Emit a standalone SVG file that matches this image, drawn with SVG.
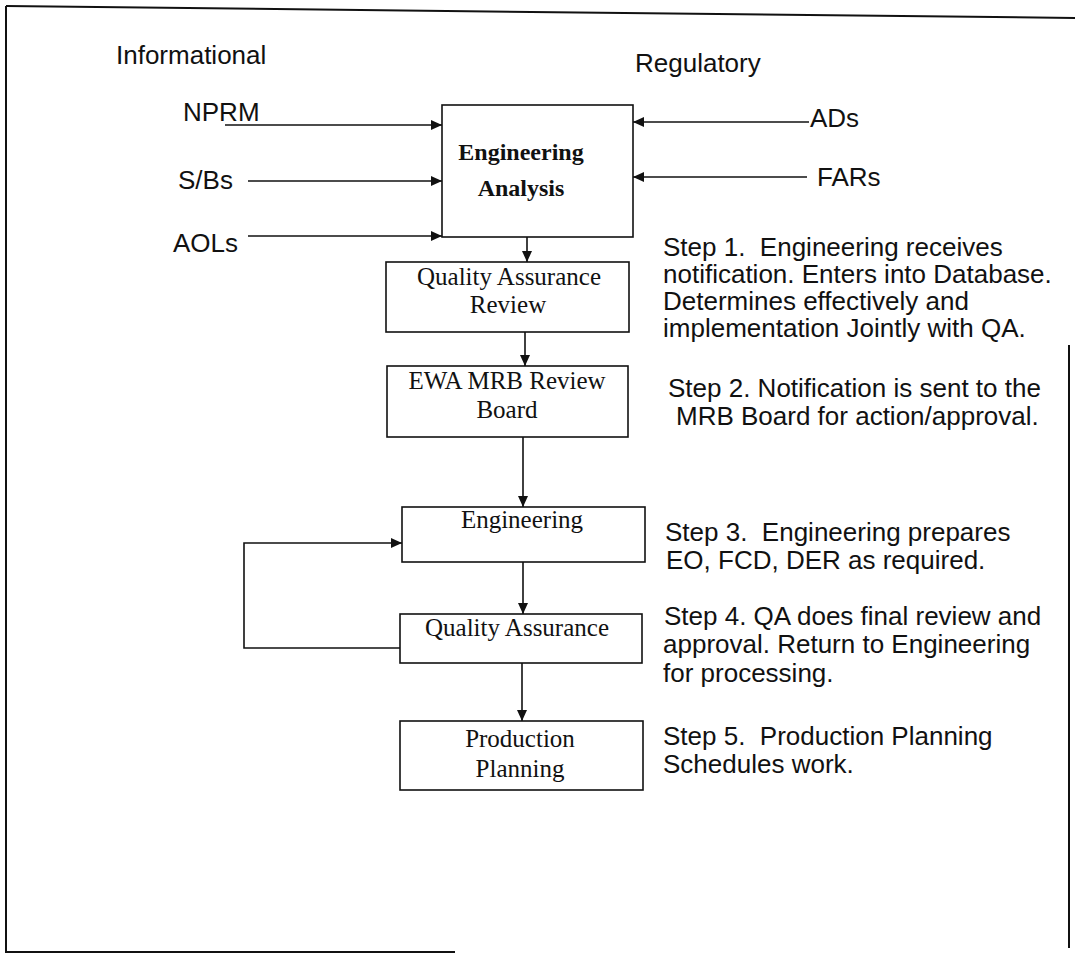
<svg xmlns="http://www.w3.org/2000/svg" width="1075" height="957" viewBox="0 0 1075 957">
<style>
.frame{fill:none;stroke:#111;stroke-width:2}
.box{fill:#fff;stroke:#111;stroke-width:1.6}
.con{fill:none;stroke:#111;stroke-width:1.6}
.sans{font-family:"Liberation Sans",Arial,sans-serif;font-size:26px;fill:#111;white-space:pre}
.lbl{font-family:"Liberation Serif","Times New Roman",serif;font-size:25px;fill:#111;text-anchor:middle}
.lblb{font-family:"Liberation Serif","Times New Roman",serif;font-size:24px;font-weight:bold;fill:#111;text-anchor:middle}
</style>
<defs>
<marker id="ah" markerUnits="userSpaceOnUse" markerWidth="12" markerHeight="10" refX="11" refY="5" orient="auto">
<path d="M0,0 L11,5 L0,10 Z" fill="#111"/>
</marker>
</defs>
<rect width="1075" height="957" fill="#fff"/>
<g id="frame">
<path class="frame" d="M6,6 L1075,18"/>
<path class="frame" d="M6,6 L6,952 L455,952"/>
<path class="frame" d="M1069,345 L1069,948"/>
</g>
<g id="headings">
<text class="sans" x="116" y="64" font-size="25">Informational</text>
<text class="sans" x="635" y="72" font-size="25">Regulatory</text>
</g>
<g id="sources">
<text class="sans" x="183" y="121">NPRM</text>
<text class="sans" x="178" y="189">S/Bs</text>
<text class="sans" x="173" y="252">AOLs</text>
<text class="sans" x="810" y="127">ADs</text>
<text class="sans" x="817" y="186">FARs</text>
</g>
<g id="connectors">
<path class="con" d="M225,125 L442,125" marker-end="url(#ah)"/>
<path class="con" d="M248,181 L442,181" marker-end="url(#ah)"/>
<path class="con" d="M248,236 L442,236" marker-end="url(#ah)"/>
<path class="con" d="M809,122 L633,122" marker-end="url(#ah)"/>
<path class="con" d="M807,177 L633,177" marker-end="url(#ah)"/>
<path class="con" d="M527,237 L527,262" marker-end="url(#ah)"/>
<path class="con" d="M525,332 L525,366" marker-end="url(#ah)"/>
<path class="con" d="M523,437 L523,507" marker-end="url(#ah)"/>
<path class="con" d="M523,562 L523,614" marker-end="url(#ah)"/>
<path class="con" d="M522,663 L522,721" marker-end="url(#ah)"/>
<path class="con" d="M400,648 L244,648 L244,543 L402,543" marker-end="url(#ah)"/>
</g>
<g id="engineering-analysis">
<rect class="box" x="442" y="105" width="191" height="132"/>
<text class="lblb" x="521" y="160">Engineering</text>
<text class="lblb" x="521" y="196">Analysis</text>
</g>
<g id="qa-review">
<rect class="box" x="386" y="262" width="243" height="70"/>
<text class="lbl" x="509" y="285">Quality Assurance</text>
<text class="lbl" x="508" y="313">Review</text>
</g>
<g id="ewa-mrb">
<rect class="box" x="387" y="366" width="241" height="71"/>
<text class="lbl" x="507" y="389">EWA MRB Review</text>
<text class="lbl" x="507" y="418">Board</text>
</g>
<g id="engineering">
<rect class="box" x="402" y="507" width="243" height="55"/>
<text class="lbl" x="522" y="528">Engineering</text>
</g>
<g id="quality-assurance">
<rect class="box" x="400" y="614" width="242" height="49"/>
<text class="lbl" x="517" y="636">Quality Assurance</text>
</g>
<g id="production-planning">
<rect class="box" x="400" y="721" width="243" height="69"/>
<text class="lbl" x="520" y="747">Production</text>
<text class="lbl" x="520" y="777">Planning</text>
</g>
<g id="steps">
<text class="sans" x="663" y="256">Step 1.  Engineering receives</text>
<text class="sans" x="663" y="283">notification. Enters into Database.</text>
<text class="sans" x="663" y="310">Determines effectively and</text>
<text class="sans" x="663" y="337">implementation Jointly with QA.</text>
<text class="sans" x="668" y="397">Step 2. Notification is sent to the</text>
<text class="sans" x="676" y="425">MRB Board for action/approval.</text>
<text class="sans" x="665" y="541">Step 3.  Engineering prepares</text>
<text class="sans" x="666" y="569">EO, FCD, DER as required.</text>
<text class="sans" x="664" y="625">Step 4. QA does final review and</text>
<text class="sans" x="663" y="653">approval. Return to Engineering</text>
<text class="sans" x="663" y="682">for processing.</text>
<text class="sans" x="663" y="745">Step 5.  Production Planning</text>
<text class="sans" x="663" y="773">Schedules work.</text>
</g>
</svg>
